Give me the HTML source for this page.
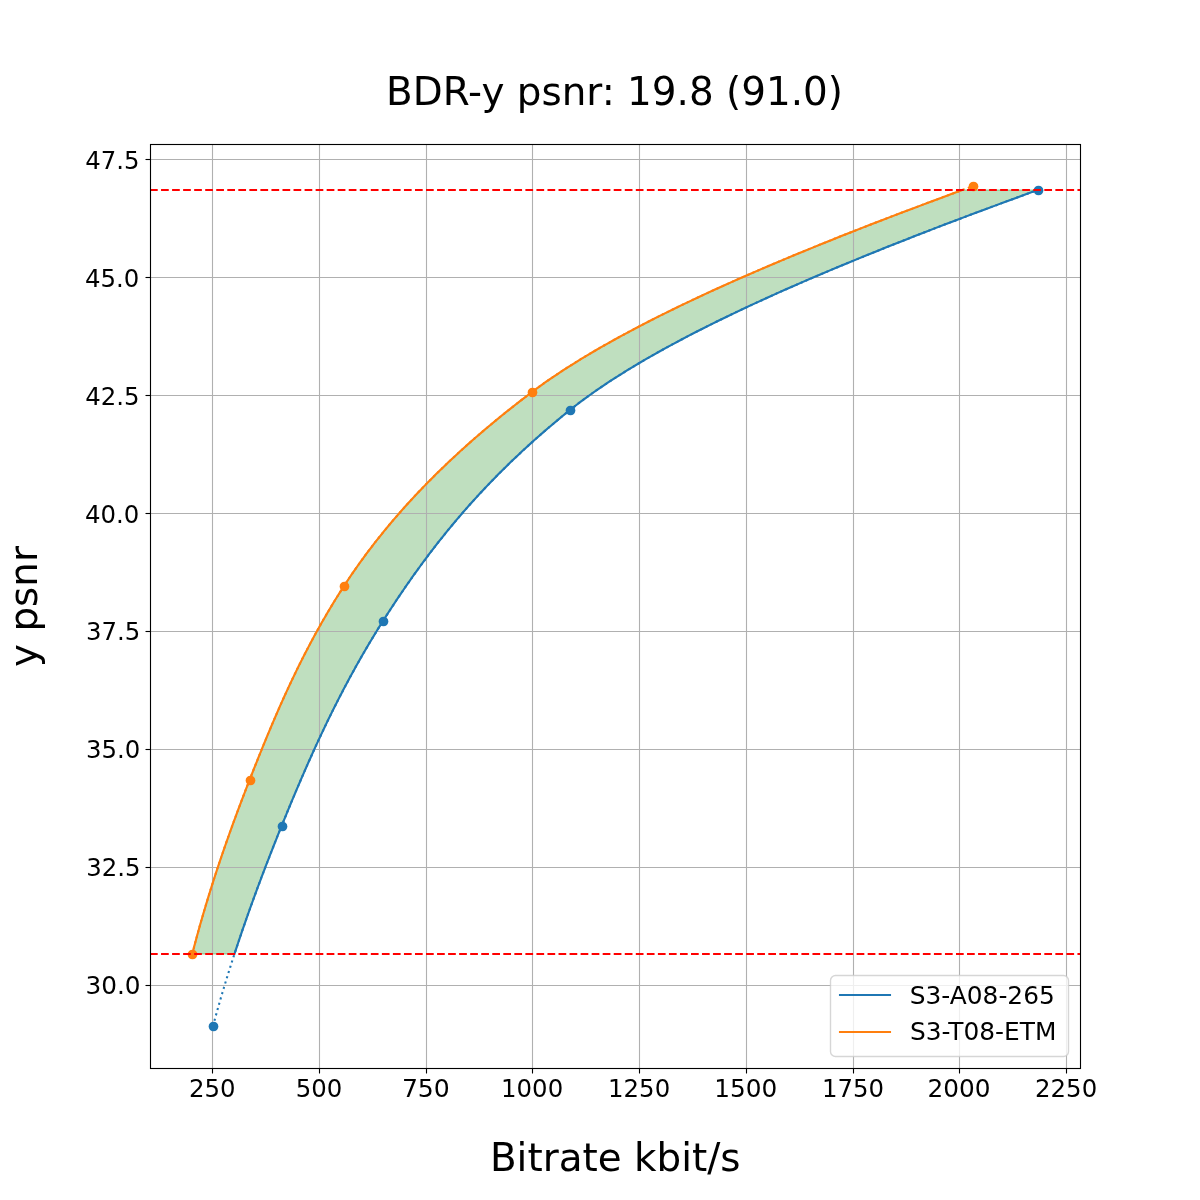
<!DOCTYPE html>
<html lang="en"><head><meta charset="utf-8"><title>BDR-y psnr: 19.8 (91.0)</title>
<style>html,body{margin:0;padding:0;background:#fff}svg{display:block}text{font-family:"DejaVu Sans","Liberation Sans",sans-serif;fill:#000}.t18{font-size:24.4px}.t28{font-size:38.889px}</style></head><body>
<svg width="1200" height="1200" viewBox="0 0 1200 1200">
<rect width="1200" height="1200" fill="#fff"/>
<defs><clipPath id="ax"><rect x="150" y="144" width="930" height="924"/></clipPath></defs>
<g clip-path="url(#ax)"><path d="M234.46 954.00 L235.72 950.16 L236.99 946.32 L238.27 942.48 L239.56 938.64 L240.86 934.80 L242.17 930.96 L243.49 927.13 L244.83 923.29 L246.17 919.45 L247.52 915.61 L248.88 911.77 L250.25 907.93 L251.63 904.09 L253.02 900.25 L254.42 896.41 L255.83 892.57 L257.25 888.73 L258.67 884.89 L260.11 881.06 L261.55 877.22 L263.00 873.38 L264.46 869.54 L265.93 865.70 L267.41 861.86 L268.90 858.02 L270.39 854.18 L271.90 850.34 L273.41 846.50 L274.92 842.66 L276.45 838.82 L277.98 834.98 L279.52 831.15 L281.07 827.31 L282.63 823.47 L284.19 819.63 L285.76 815.79 L287.33 811.95 L288.91 808.11 L290.50 804.27 L292.10 800.43 L293.70 796.59 L295.32 792.75 L296.94 788.91 L298.58 785.08 L300.22 781.24 L301.87 777.40 L303.54 773.56 L305.21 769.72 L306.90 765.88 L308.60 762.04 L310.32 758.20 L312.04 754.36 L313.78 750.52 L315.53 746.68 L317.30 742.84 L319.08 739.01 L320.87 735.17 L322.68 731.33 L324.51 727.49 L326.35 723.65 L328.21 719.81 L330.09 715.97 L331.98 712.13 L333.89 708.29 L335.82 704.45 L337.77 700.61 L339.74 696.77 L341.72 692.93 L343.73 689.10 L345.75 685.26 L347.80 681.42 L349.86 677.58 L351.95 673.74 L354.06 669.90 L356.19 666.06 L358.35 662.22 L360.52 658.38 L362.72 654.54 L364.95 650.70 L367.20 646.86 L369.47 643.03 L371.77 639.19 L374.09 635.35 L376.44 631.51 L378.81 627.67 L381.21 623.83 L383.64 619.99 L386.09 616.15 L388.56 612.31 L391.05 608.47 L393.57 604.63 L396.11 600.79 L398.67 596.95 L401.26 593.12 L403.88 589.28 L406.52 585.44 L409.19 581.60 L411.88 577.76 L414.61 573.92 L417.37 570.08 L420.16 566.24 L422.98 562.40 L425.83 558.56 L428.72 554.72 L431.64 550.88 L434.59 547.05 L437.59 543.21 L440.61 539.37 L443.68 535.53 L446.79 531.69 L449.93 527.85 L453.12 524.01 L456.34 520.17 L459.61 516.33 L462.92 512.49 L466.27 508.65 L469.67 504.81 L473.11 500.97 L476.60 497.14 L480.14 493.30 L483.72 489.46 L487.35 485.62 L491.04 481.78 L494.77 477.94 L498.55 474.10 L502.38 470.26 L506.27 466.42 L510.21 462.58 L514.21 458.74 L518.26 454.90 L522.36 451.07 L526.52 447.23 L530.74 443.39 L535.02 439.55 L539.36 435.71 L543.76 431.87 L548.22 428.03 L552.74 424.19 L557.32 420.35 L561.97 416.51 L566.68 412.67 L571.46 408.83 L576.37 404.99 L581.43 401.16 L586.63 397.32 L591.98 393.48 L597.48 389.64 L603.11 385.80 L608.88 381.96 L614.80 378.12 L620.85 374.28 L627.03 370.44 L633.35 366.60 L639.79 362.76 L646.37 358.92 L653.07 355.09 L659.90 351.25 L666.86 347.41 L673.94 343.57 L681.13 339.73 L688.45 335.89 L695.89 332.05 L703.44 328.21 L711.10 324.37 L718.88 320.53 L726.76 316.69 L734.76 312.85 L742.86 309.02 L751.07 305.18 L759.38 301.34 L767.80 297.50 L776.31 293.66 L784.92 289.82 L793.63 285.98 L802.43 282.14 L811.33 278.30 L820.32 274.46 L829.40 270.62 L838.56 266.78 L847.82 262.94 L857.15 259.11 L866.57 255.27 L876.08 251.43 L885.66 247.59 L895.31 243.75 L905.05 239.91 L914.86 236.07 L924.74 232.23 L934.69 228.39 L944.71 224.55 L954.80 220.71 L964.96 216.87 L975.17 213.04 L985.45 209.20 L995.80 205.36 L1006.20 201.52 L1016.65 197.68 L1027.16 193.84 L1037.73 190.00 L962.49 190.00 L952.03 193.84 L941.63 197.68 L931.30 201.52 L921.02 205.36 L910.81 209.20 L900.67 213.04 L890.60 216.87 L880.59 220.71 L870.66 224.55 L860.80 228.39 L851.02 232.23 L841.31 236.07 L831.69 239.91 L822.14 243.75 L812.67 247.59 L803.29 251.43 L793.99 255.27 L784.78 259.11 L775.66 262.94 L766.63 266.78 L757.69 270.62 L748.84 274.46 L740.09 278.30 L731.43 282.14 L722.87 285.98 L714.42 289.82 L706.06 293.66 L697.81 297.50 L689.67 301.34 L681.63 305.18 L673.70 309.02 L665.87 312.85 L658.17 316.69 L650.57 320.53 L643.09 324.37 L635.73 328.21 L628.48 332.05 L621.36 335.89 L614.35 339.73 L607.48 343.57 L600.72 347.41 L594.09 351.25 L587.60 355.09 L581.23 358.92 L574.99 362.76 L568.89 366.60 L562.92 370.44 L557.09 374.28 L551.40 378.12 L545.84 381.96 L540.43 385.80 L535.17 389.64 L530.04 393.48 L524.99 397.32 L520.00 401.16 L515.07 404.99 L510.20 408.83 L505.38 412.67 L500.63 416.51 L495.94 420.35 L491.30 424.19 L486.72 428.03 L482.20 431.87 L477.74 435.71 L473.33 439.55 L468.98 443.39 L464.68 447.23 L460.44 451.07 L456.26 454.90 L452.13 458.74 L448.06 462.58 L444.04 466.42 L440.07 470.26 L436.16 474.10 L432.30 477.94 L428.49 481.78 L424.74 485.62 L421.04 489.46 L417.39 493.30 L413.79 497.14 L410.24 500.97 L406.74 504.81 L403.29 508.65 L399.90 512.49 L396.55 516.33 L393.25 520.17 L390.00 524.01 L386.80 527.85 L383.65 531.69 L380.54 535.53 L377.48 539.37 L374.47 543.21 L371.51 547.05 L368.59 550.88 L365.72 554.72 L362.90 558.56 L360.12 562.40 L357.38 566.24 L354.69 570.08 L352.04 573.92 L349.44 577.76 L346.88 581.60 L344.37 585.44 L341.89 589.28 L339.45 593.12 L337.04 596.95 L334.66 600.79 L332.32 604.63 L330.01 608.47 L327.73 612.31 L325.48 616.15 L323.25 619.99 L321.06 623.83 L318.90 627.67 L316.77 631.51 L314.66 635.35 L312.58 639.19 L310.52 643.03 L308.50 646.86 L306.49 650.70 L304.51 654.54 L302.56 658.38 L300.63 662.22 L298.72 666.06 L296.83 669.90 L294.97 673.74 L293.12 677.58 L291.30 681.42 L289.49 685.26 L287.71 689.10 L285.94 692.93 L284.19 696.77 L282.46 700.61 L280.75 704.45 L279.05 708.29 L277.37 712.13 L275.70 715.97 L274.04 719.81 L272.41 723.65 L270.78 727.49 L269.17 731.33 L267.56 735.17 L265.97 739.01 L264.39 742.84 L262.83 746.68 L261.27 750.52 L259.72 754.36 L258.17 758.20 L256.64 762.04 L255.11 765.88 L253.59 769.72 L252.08 773.56 L250.57 777.40 L249.07 781.24 L247.57 785.08 L246.08 788.91 L244.61 792.75 L243.14 796.59 L241.68 800.43 L240.22 804.27 L238.78 808.11 L237.35 811.95 L235.93 815.79 L234.51 819.63 L233.11 823.47 L231.72 827.31 L230.34 831.15 L228.96 834.98 L227.60 838.82 L226.25 842.66 L224.91 846.50 L223.58 850.34 L222.26 854.18 L220.95 858.02 L219.65 861.86 L218.37 865.70 L217.09 869.54 L215.83 873.38 L214.58 877.22 L213.34 881.06 L212.12 884.89 L210.90 888.73 L209.70 892.57 L208.51 896.41 L207.34 900.25 L206.17 904.09 L205.02 907.93 L203.88 911.77 L202.76 915.61 L201.65 919.45 L200.55 923.29 L199.47 927.13 L198.40 930.96 L197.34 934.80 L196.30 938.64 L195.27 942.48 L194.25 946.32 L193.25 950.16 L192.27 954.00 Z" fill="#008000" fill-opacity="0.25" stroke="#008000" stroke-opacity="0.25" stroke-width="1.389" stroke-linejoin="miter"/></g>
<g stroke="#b0b0b0" stroke-width="1.111" fill="none">
<path d="M212.5 1068V144"/>
<path d="M319.5 1068V144"/>
<path d="M426.5 1068V144"/>
<path d="M532.5 1068V144"/>
<path d="M639.5 1068V144"/>
<path d="M746.5 1068V144"/>
<path d="M853.5 1068V144"/>
<path d="M959.5 1068V144"/>
<path d="M1066.5 1068V144"/>
<path d="M150 985.5H1080"/>
<path d="M150 867.5H1080"/>
<path d="M150 749.5H1080"/>
<path d="M150 631.5H1080"/>
<path d="M150 513.5H1080"/>
<path d="M150 395.5H1080"/>
<path d="M150 277.5H1080"/>
<path d="M150 159.5H1080"/>
</g>
<g stroke="#000" stroke-width="1.111" fill="none">
<path d="M212.5 1068.5v5.00"/>
<path d="M319.5 1068.5v5.00"/>
<path d="M426.5 1068.5v5.00"/>
<path d="M532.5 1068.5v5.00"/>
<path d="M639.5 1068.5v5.00"/>
<path d="M746.5 1068.5v5.00"/>
<path d="M853.5 1068.5v5.00"/>
<path d="M959.5 1068.5v5.00"/>
<path d="M1066.5 1068.5v5.00"/>
<path d="M150.5 985.5h-5.00"/>
<path d="M150.5 867.5h-5.00"/>
<path d="M150.5 749.5h-5.00"/>
<path d="M150.5 631.5h-5.00"/>
<path d="M150.5 513.5h-5.00"/>
<path d="M150.5 395.5h-5.00"/>
<path d="M150.5 277.5h-5.00"/>
<path d="M150.5 159.5h-5.00"/>
</g>
<g clip-path="url(#ax)">
<path d="M213.00 1026.00 L213.56 1023.90 L214.13 1021.81 L214.70 1019.71 L215.28 1017.62 L215.86 1015.52 L216.44 1013.43 L217.03 1011.33 L217.62 1009.24 L218.21 1007.14 L218.81 1005.05 L219.41 1002.95 L220.01 1000.86 L220.62 998.76 L221.24 996.67 L221.85 994.57 L222.47 992.48 L223.09 990.38 L223.72 988.29 L224.35 986.19 L224.98 984.10 L225.62 982.00 L226.26 979.90 L226.91 977.81 L227.55 975.71 L228.20 973.62 L228.86 971.52 L229.52 969.43 L230.18 967.33 L230.84 965.24 L231.51 963.14 L232.18 961.05 L232.86 958.95 L233.53 956.86 L234.21 954.76 L234.90 952.67 L235.59 950.57 L236.28 948.48 L236.97 946.38 L237.67 944.29 L238.37 942.19 L239.07 940.10 L239.78 938.00 L240.49 935.90 L241.20 933.81 L241.92 931.71 L242.63 929.62 L243.36 927.52 L244.08 925.43 L244.81 923.33 L245.54 921.24 L246.27 919.14 L247.01 917.05 L247.75 914.95 L248.49 912.86 L249.24 910.76 L249.99 908.67 L250.74 906.57 L251.49 904.48 L252.25 902.38 L253.01 900.29 L253.77 898.19 L254.54 896.10 L255.30 894.00 L256.07 891.90 L256.85 889.81 L257.62 887.71 L258.40 885.62 L259.18 883.52 L259.97 881.43 L260.75 879.33 L261.54 877.24 L262.33 875.14 L263.13 873.05 L263.93 870.95 L264.72 868.86 L265.53 866.76 L266.33 864.67 L267.14 862.57 L267.95 860.48 L268.76 858.38 L269.57 856.29 L270.39 854.19 L271.21 852.10 L272.03 850.00 L272.85 847.90 L273.68 845.81 L274.51 843.71 L275.34 841.62 L276.17 839.52 L277.01 837.43 L277.84 835.33 L278.68 833.24 L279.52 831.14 L280.37 829.05 L281.21 826.95 L282.06 824.86 L282.91 822.76 L283.76 820.67 L284.62 818.57 L285.47 816.48 L286.33 814.38 L287.19 812.29 L288.05 810.19 L288.92 808.10 L289.78 806.00 L290.65 803.90 L291.52 801.81 L292.40 799.71 L293.27 797.62 L294.15 795.52 L295.03 793.43 L295.92 791.33 L296.80 789.24 L297.69 787.14 L298.59 785.05 L299.48 782.95 L300.38 780.86 L301.28 778.76 L302.19 776.67 L303.10 774.57 L304.01 772.48 L304.92 770.38 L305.84 768.29 L306.77 766.19 L307.69 764.10 L308.62 762.00 L309.55 759.90 L310.49 757.81 L311.43 755.71 L312.38 753.62 L313.32 751.52 L314.28 749.43 L315.23 747.33 L316.19 745.24 L317.16 743.14 L318.13 741.05 L319.10 738.95 L320.08 736.86 L321.06 734.76 L322.05 732.67 L323.04 730.57 L324.04 728.48 L325.04 726.38 L326.05 724.29 L327.06 722.19 L328.07 720.10 L329.09 718.00 L330.12 715.90 L331.15 713.81 L332.19 711.71 L333.23 709.62 L334.28 707.52 L335.33 705.43 L336.39 703.33 L337.45 701.24 L338.52 699.14 L339.59 697.05 L340.68 694.95 L341.76 692.86 L342.85 690.76 L343.95 688.67 L345.06 686.57 L346.17 684.48 L347.28 682.38 L348.40 680.29 L349.53 678.19 L350.67 676.10 L351.81 674.00 L352.96 671.90 L354.11 669.81 L355.27 667.71 L356.44 665.62 L357.61 663.52 L358.80 661.43 L359.98 659.33 L361.18 657.24 L362.38 655.14 L363.59 653.05 L364.80 650.95 L366.03 648.86 L367.26 646.76 L368.49 644.67 L369.74 642.57 L370.99 640.48 L372.25 638.38 L373.52 636.29 L374.79 634.19 L376.08 632.10 L377.37 630.00 L378.67 627.90 L379.97 625.81 L381.29 623.71 L382.61 621.62 L383.94 619.52 L385.27 617.43 L386.62 615.33 L387.96 613.24 L389.32 611.14 L390.68 609.05 L392.05 606.95 L393.42 604.86 L394.80 602.76 L396.19 600.67 L397.59 598.57 L398.99 596.48 L400.40 594.38 L401.82 592.29 L403.25 590.19 L404.69 588.10 L406.13 586.00 L407.58 583.90 L409.04 581.81 L410.51 579.71 L411.98 577.62 L413.47 575.52 L414.96 573.43 L416.47 571.33 L417.98 569.24 L419.50 567.14 L421.03 565.05 L422.57 562.95 L424.12 560.86 L425.68 558.76 L427.25 556.67 L428.83 554.57 L430.42 552.48 L432.02 550.38 L433.63 548.29 L435.26 546.19 L436.89 544.10 L438.53 542.00 L440.19 539.90 L441.85 537.81 L443.53 535.71 L445.22 533.62 L446.92 531.52 L448.63 529.43 L450.36 527.33 L452.09 525.24 L453.84 523.14 L455.60 521.05 L457.37 518.95 L459.16 516.86 L460.96 514.76 L462.77 512.67 L464.59 510.57 L466.43 508.48 L468.28 506.38 L470.14 504.29 L472.02 502.19 L473.91 500.10 L475.81 498.00 L477.73 495.90 L479.66 493.81 L481.61 491.71 L483.57 489.62 L485.54 487.52 L487.53 485.43 L489.54 483.33 L491.56 481.24 L493.59 479.14 L495.64 477.05 L497.71 474.95 L499.79 472.86 L501.88 470.76 L503.99 468.67 L506.12 466.57 L508.26 464.48 L510.42 462.38 L512.59 460.29 L514.79 458.19 L516.99 456.10 L519.22 454.00 L521.46 451.90 L523.72 449.81 L525.99 447.71 L528.28 445.62 L530.59 443.52 L532.92 441.43 L535.26 439.33 L537.63 437.24 L540.01 435.14 L542.40 433.05 L544.82 430.95 L547.25 428.86 L549.71 426.76 L552.18 424.67 L554.67 422.57 L557.17 420.48 L559.70 418.38 L562.25 416.29 L564.81 414.19 L567.40 412.10 L570.00 410.00 L572.64 407.90 L575.32 405.81 L578.04 403.71 L580.81 401.62 L583.62 399.52 L586.48 397.43 L589.38 395.33 L592.32 393.24 L595.31 391.14 L598.33 389.05 L601.40 386.95 L604.51 384.86 L607.67 382.76 L610.86 380.67 L614.10 378.57 L617.37 376.48 L620.69 374.38 L624.04 372.29 L627.44 370.19 L630.87 368.10 L634.35 366.00 L637.86 363.90 L641.42 361.81 L645.01 359.71 L648.64 357.62 L652.30 355.52 L656.01 353.43 L659.75 351.33 L663.53 349.24 L667.34 347.14 L671.19 345.05 L675.08 342.95 L679.01 340.86 L682.97 338.76 L686.96 336.67 L690.99 334.57 L695.06 332.48 L699.16 330.38 L703.29 328.29 L707.46 326.19 L711.66 324.10 L715.89 322.00 L720.16 319.90 L724.46 317.81 L728.79 315.71 L733.16 313.62 L737.56 311.52 L741.99 309.43 L746.45 307.33 L750.94 305.24 L755.46 303.14 L760.01 301.05 L764.60 298.95 L769.21 296.86 L773.85 294.76 L778.52 292.67 L783.23 290.57 L787.96 288.48 L792.72 286.38 L797.50 284.29 L802.32 282.19 L807.16 280.10 L812.03 278.00 L816.93 275.90 L821.86 273.81 L826.81 271.71 L831.79 269.62 L836.79 267.52 L841.82 265.43 L846.88 263.33 L851.96 261.24 L857.06 259.14 L862.19 257.05 L867.35 254.95 L872.53 252.86 L877.73 250.76 L882.96 248.67 L888.21 246.57 L893.48 244.48 L898.77 242.38 L904.09 240.29 L909.43 238.19 L914.79 236.10 L920.18 234.00 L925.58 231.90 L931.01 229.81 L936.46 227.71 L941.92 225.62 L947.41 223.52 L952.92 221.43 L958.44 219.33 L963.99 217.24 L969.56 215.14 L975.14 213.05 L980.74 210.95 L986.37 208.86 L992.00 206.76 L997.66 204.67 L1003.34 202.57 L1009.03 200.48 L1014.73 198.38 L1020.46 196.29 L1026.20 194.19 L1031.96 192.10 L1037.73 190.00" fill="none" stroke="#1f77b4" stroke-width="2.083" stroke-dasharray="2.083 3.437" stroke-linejoin="round"/>
<path d="M234.46 954.00 L235.72 950.16 L236.99 946.32 L238.27 942.48 L239.56 938.64 L240.86 934.80 L242.17 930.96 L243.49 927.13 L244.83 923.29 L246.17 919.45 L247.52 915.61 L248.88 911.77 L250.25 907.93 L251.63 904.09 L253.02 900.25 L254.42 896.41 L255.83 892.57 L257.25 888.73 L258.67 884.89 L260.11 881.06 L261.55 877.22 L263.00 873.38 L264.46 869.54 L265.93 865.70 L267.41 861.86 L268.90 858.02 L270.39 854.18 L271.90 850.34 L273.41 846.50 L274.92 842.66 L276.45 838.82 L277.98 834.98 L279.52 831.15 L281.07 827.31 L282.63 823.47 L284.19 819.63 L285.76 815.79 L287.33 811.95 L288.91 808.11 L290.50 804.27 L292.10 800.43 L293.70 796.59 L295.32 792.75 L296.94 788.91 L298.58 785.08 L300.22 781.24 L301.87 777.40 L303.54 773.56 L305.21 769.72 L306.90 765.88 L308.60 762.04 L310.32 758.20 L312.04 754.36 L313.78 750.52 L315.53 746.68 L317.30 742.84 L319.08 739.01 L320.87 735.17 L322.68 731.33 L324.51 727.49 L326.35 723.65 L328.21 719.81 L330.09 715.97 L331.98 712.13 L333.89 708.29 L335.82 704.45 L337.77 700.61 L339.74 696.77 L341.72 692.93 L343.73 689.10 L345.75 685.26 L347.80 681.42 L349.86 677.58 L351.95 673.74 L354.06 669.90 L356.19 666.06 L358.35 662.22 L360.52 658.38 L362.72 654.54 L364.95 650.70 L367.20 646.86 L369.47 643.03 L371.77 639.19 L374.09 635.35 L376.44 631.51 L378.81 627.67 L381.21 623.83 L383.64 619.99 L386.09 616.15 L388.56 612.31 L391.05 608.47 L393.57 604.63 L396.11 600.79 L398.67 596.95 L401.26 593.12 L403.88 589.28 L406.52 585.44 L409.19 581.60 L411.88 577.76 L414.61 573.92 L417.37 570.08 L420.16 566.24 L422.98 562.40 L425.83 558.56 L428.72 554.72 L431.64 550.88 L434.59 547.05 L437.59 543.21 L440.61 539.37 L443.68 535.53 L446.79 531.69 L449.93 527.85 L453.12 524.01 L456.34 520.17 L459.61 516.33 L462.92 512.49 L466.27 508.65 L469.67 504.81 L473.11 500.97 L476.60 497.14 L480.14 493.30 L483.72 489.46 L487.35 485.62 L491.04 481.78 L494.77 477.94 L498.55 474.10 L502.38 470.26 L506.27 466.42 L510.21 462.58 L514.21 458.74 L518.26 454.90 L522.36 451.07 L526.52 447.23 L530.74 443.39 L535.02 439.55 L539.36 435.71 L543.76 431.87 L548.22 428.03 L552.74 424.19 L557.32 420.35 L561.97 416.51 L566.68 412.67 L571.46 408.83 L576.37 404.99 L581.43 401.16 L586.63 397.32 L591.98 393.48 L597.48 389.64 L603.11 385.80 L608.88 381.96 L614.80 378.12 L620.85 374.28 L627.03 370.44 L633.35 366.60 L639.79 362.76 L646.37 358.92 L653.07 355.09 L659.90 351.25 L666.86 347.41 L673.94 343.57 L681.13 339.73 L688.45 335.89 L695.89 332.05 L703.44 328.21 L711.10 324.37 L718.88 320.53 L726.76 316.69 L734.76 312.85 L742.86 309.02 L751.07 305.18 L759.38 301.34 L767.80 297.50 L776.31 293.66 L784.92 289.82 L793.63 285.98 L802.43 282.14 L811.33 278.30 L820.32 274.46 L829.40 270.62 L838.56 266.78 L847.82 262.94 L857.15 259.11 L866.57 255.27 L876.08 251.43 L885.66 247.59 L895.31 243.75 L905.05 239.91 L914.86 236.07 L924.74 232.23 L934.69 228.39 L944.71 224.55 L954.80 220.71 L964.96 216.87 L975.17 213.04 L985.45 209.20 L995.80 205.36 L1006.20 201.52 L1016.65 197.68 L1027.16 193.84 L1037.73 190.00" fill="none" stroke="#1f77b4" stroke-width="2.083" stroke-linecap="square" stroke-linejoin="round"/>
<circle cx="213.50" cy="1026.50" r="4.861" fill="#1f77b4"/>
<circle cx="282.50" cy="826.50" r="4.861" fill="#1f77b4"/>
<circle cx="383.50" cy="621.50" r="4.861" fill="#1f77b4"/>
<circle cx="570.50" cy="410.50" r="4.861" fill="#1f77b4"/>
<circle cx="1038.50" cy="190.50" r="4.861" fill="#1f77b4"/>
<path d="M192.27 954.00 L192.76 952.08 L193.26 950.15 L193.76 948.23 L194.26 946.30 L194.77 944.38 L195.28 942.45 L195.79 940.53 L196.31 938.60 L196.83 936.68 L197.35 934.75 L197.88 932.83 L198.41 930.90 L198.95 928.98 L199.49 927.05 L200.03 925.13 L200.57 923.20 L201.12 921.28 L201.68 919.35 L202.23 917.43 L202.79 915.50 L203.35 913.58 L203.92 911.65 L204.49 909.73 L205.06 907.80 L205.63 905.88 L206.21 903.95 L206.80 902.03 L207.38 900.11 L207.97 898.18 L208.56 896.26 L209.16 894.33 L209.75 892.41 L210.35 890.48 L210.96 888.56 L211.57 886.63 L212.18 884.71 L212.79 882.78 L213.41 880.86 L214.03 878.93 L214.65 877.01 L215.28 875.08 L215.90 873.16 L216.54 871.23 L217.17 869.31 L217.81 867.38 L218.45 865.46 L219.09 863.53 L219.74 861.61 L220.39 859.68 L221.04 857.76 L221.69 855.83 L222.35 853.91 L223.01 851.98 L223.67 850.06 L224.34 848.14 L225.01 846.21 L225.68 844.29 L226.35 842.36 L227.03 840.44 L227.71 838.51 L228.39 836.59 L229.08 834.66 L229.76 832.74 L230.45 830.81 L231.15 828.89 L231.84 826.96 L232.54 825.04 L233.24 823.11 L233.94 821.19 L234.65 819.26 L235.36 817.34 L236.07 815.41 L236.78 813.49 L237.49 811.56 L238.21 809.64 L238.93 807.71 L239.65 805.79 L240.38 803.86 L241.10 801.94 L241.83 800.02 L242.57 798.09 L243.30 796.17 L244.04 794.24 L244.77 792.32 L245.51 790.39 L246.26 788.47 L247.00 786.54 L247.75 784.62 L248.50 782.69 L249.25 780.77 L250.00 778.84 L250.76 776.92 L251.51 774.99 L252.27 773.07 L253.03 771.14 L253.79 769.22 L254.55 767.29 L255.32 765.37 L256.08 763.44 L256.85 761.52 L257.62 759.59 L258.39 757.67 L259.16 755.74 L259.93 753.82 L260.71 751.89 L261.49 749.97 L262.27 748.05 L263.05 746.12 L263.84 744.20 L264.63 742.27 L265.42 740.35 L266.21 738.42 L267.01 736.50 L267.81 734.57 L268.61 732.65 L269.42 730.72 L270.23 728.80 L271.04 726.87 L271.85 724.95 L272.67 723.02 L273.49 721.10 L274.32 719.17 L275.15 717.25 L275.98 715.32 L276.81 713.40 L277.65 711.47 L278.50 709.55 L279.34 707.62 L280.19 705.70 L281.05 703.77 L281.91 701.85 L282.77 699.92 L283.64 698.00 L284.51 696.08 L285.39 694.15 L286.27 692.23 L287.15 690.30 L288.04 688.38 L288.93 686.45 L289.83 684.53 L290.74 682.60 L291.65 680.68 L292.56 678.75 L293.48 676.83 L294.40 674.90 L295.33 672.98 L296.27 671.05 L297.21 669.13 L298.15 667.20 L299.10 665.28 L300.06 663.35 L301.02 661.43 L301.99 659.50 L302.96 657.58 L303.94 655.65 L304.93 653.73 L305.92 651.80 L306.92 649.88 L307.92 647.95 L308.93 646.03 L309.95 644.11 L310.97 642.18 L312.00 640.26 L313.04 638.33 L314.08 636.41 L315.13 634.48 L316.19 632.56 L317.25 630.63 L318.32 628.71 L319.40 626.78 L320.48 624.86 L321.57 622.93 L322.67 621.01 L323.78 619.08 L324.89 617.16 L326.01 615.23 L327.14 613.31 L328.27 611.38 L329.42 609.46 L330.57 607.53 L331.73 605.61 L332.90 603.68 L334.07 601.76 L335.25 599.83 L336.44 597.91 L337.64 595.98 L338.85 594.06 L340.07 592.14 L341.29 590.21 L342.52 588.29 L343.77 586.36 L345.02 584.44 L346.28 582.51 L347.55 580.59 L348.83 578.66 L350.13 576.74 L351.43 574.81 L352.75 572.89 L354.08 570.96 L355.42 569.04 L356.77 567.11 L358.13 565.19 L359.50 563.26 L360.88 561.34 L362.28 559.41 L363.68 557.49 L365.10 555.56 L366.53 553.64 L367.97 551.71 L369.42 549.79 L370.88 547.86 L372.36 545.94 L373.85 544.02 L375.34 542.09 L376.85 540.17 L378.38 538.24 L379.91 536.32 L381.46 534.39 L383.01 532.47 L384.58 530.54 L386.17 528.62 L387.76 526.69 L389.37 524.77 L390.98 522.84 L392.61 520.92 L394.26 518.99 L395.91 517.07 L397.58 515.14 L399.26 513.22 L400.95 511.29 L402.66 509.37 L404.37 507.44 L406.10 505.52 L407.85 503.59 L409.60 501.67 L411.37 499.74 L413.15 497.82 L414.94 495.89 L416.75 493.97 L418.57 492.05 L420.40 490.12 L422.25 488.20 L424.10 486.27 L425.98 484.35 L427.86 482.42 L429.76 480.50 L431.67 478.57 L433.59 476.65 L435.53 474.72 L437.48 472.80 L439.45 470.87 L441.42 468.95 L443.41 467.02 L445.42 465.10 L447.44 463.17 L449.47 461.25 L451.51 459.32 L453.57 457.40 L455.65 455.47 L457.73 453.55 L459.83 451.62 L461.95 449.70 L464.08 447.77 L466.22 445.85 L468.37 443.92 L470.54 442.00 L472.73 440.08 L474.93 438.15 L477.14 436.23 L479.37 434.30 L481.61 432.38 L483.86 430.45 L486.13 428.53 L488.42 426.60 L490.72 424.68 L493.03 422.75 L495.36 420.83 L497.70 418.90 L500.06 416.98 L502.43 415.05 L504.82 413.13 L507.22 411.20 L509.64 409.28 L512.07 407.35 L514.51 405.43 L516.98 403.50 L519.45 401.58 L521.94 399.65 L524.45 397.73 L526.97 395.80 L529.51 393.88 L532.06 391.95 L534.64 390.03 L537.25 388.11 L539.90 386.18 L542.59 384.26 L545.32 382.33 L548.07 380.41 L550.87 378.48 L553.70 376.56 L556.56 374.63 L559.46 372.71 L562.40 370.78 L565.37 368.86 L568.37 366.93 L571.41 365.01 L574.48 363.08 L577.58 361.16 L580.72 359.23 L583.89 357.31 L587.10 355.38 L590.33 353.46 L593.60 351.53 L596.90 349.61 L600.24 347.68 L603.60 345.76 L607.00 343.83 L610.43 341.91 L613.89 339.98 L617.38 338.06 L620.91 336.14 L624.46 334.21 L628.04 332.29 L631.66 330.36 L635.30 328.44 L638.97 326.51 L642.68 324.59 L646.41 322.66 L650.17 320.74 L653.96 318.81 L657.78 316.89 L661.63 314.96 L665.50 313.04 L669.41 311.11 L673.34 309.19 L677.30 307.26 L681.29 305.34 L685.30 303.41 L689.35 301.49 L693.41 299.56 L697.51 297.64 L701.63 295.71 L705.78 293.79 L709.95 291.86 L714.15 289.94 L718.38 288.02 L722.63 286.09 L726.91 284.17 L731.21 282.24 L735.53 280.32 L739.88 278.39 L744.26 276.47 L748.66 274.54 L753.08 272.62 L757.53 270.69 L762.00 268.77 L766.49 266.84 L771.01 264.92 L775.55 262.99 L780.11 261.07 L784.69 259.14 L789.30 257.22 L793.93 255.29 L798.58 253.37 L803.25 251.44 L807.94 249.52 L812.66 247.59 L817.39 245.67 L822.15 243.74 L826.93 241.82 L831.72 239.89 L836.54 237.97 L841.38 236.05 L846.24 234.12 L851.11 232.20 L856.01 230.27 L860.92 228.35 L865.86 226.42 L870.81 224.50 L875.78 222.57 L880.77 220.65 L885.78 218.72 L890.80 216.80 L895.84 214.87 L900.90 212.95 L905.98 211.02 L911.07 209.10 L916.18 207.17 L921.31 205.25 L926.46 203.32 L931.62 201.40 L936.79 199.47 L941.98 197.55 L947.19 195.62 L952.41 193.70 L957.65 191.77 L962.90 189.85 L968.17 187.92 L973.45 186.00" fill="none" stroke="#ff7f0e" stroke-width="2.083" stroke-dasharray="2.083 3.437" stroke-linejoin="round"/>
<path d="M192.27 954.00 L193.25 950.16 L194.25 946.32 L195.27 942.48 L196.30 938.64 L197.34 934.80 L198.40 930.96 L199.47 927.13 L200.55 923.29 L201.65 919.45 L202.76 915.61 L203.88 911.77 L205.02 907.93 L206.17 904.09 L207.34 900.25 L208.51 896.41 L209.70 892.57 L210.90 888.73 L212.12 884.89 L213.34 881.06 L214.58 877.22 L215.83 873.38 L217.09 869.54 L218.37 865.70 L219.65 861.86 L220.95 858.02 L222.26 854.18 L223.58 850.34 L224.91 846.50 L226.25 842.66 L227.60 838.82 L228.96 834.98 L230.34 831.15 L231.72 827.31 L233.11 823.47 L234.51 819.63 L235.93 815.79 L237.35 811.95 L238.78 808.11 L240.22 804.27 L241.68 800.43 L243.14 796.59 L244.61 792.75 L246.08 788.91 L247.57 785.08 L249.07 781.24 L250.57 777.40 L252.08 773.56 L253.59 769.72 L255.11 765.88 L256.64 762.04 L258.17 758.20 L259.72 754.36 L261.27 750.52 L262.83 746.68 L264.39 742.84 L265.97 739.01 L267.56 735.17 L269.17 731.33 L270.78 727.49 L272.41 723.65 L274.04 719.81 L275.70 715.97 L277.37 712.13 L279.05 708.29 L280.75 704.45 L282.46 700.61 L284.19 696.77 L285.94 692.93 L287.71 689.10 L289.49 685.26 L291.30 681.42 L293.12 677.58 L294.97 673.74 L296.83 669.90 L298.72 666.06 L300.63 662.22 L302.56 658.38 L304.51 654.54 L306.49 650.70 L308.50 646.86 L310.52 643.03 L312.58 639.19 L314.66 635.35 L316.77 631.51 L318.90 627.67 L321.06 623.83 L323.25 619.99 L325.48 616.15 L327.73 612.31 L330.01 608.47 L332.32 604.63 L334.66 600.79 L337.04 596.95 L339.45 593.12 L341.89 589.28 L344.37 585.44 L346.88 581.60 L349.44 577.76 L352.04 573.92 L354.69 570.08 L357.38 566.24 L360.12 562.40 L362.90 558.56 L365.72 554.72 L368.59 550.88 L371.51 547.05 L374.47 543.21 L377.48 539.37 L380.54 535.53 L383.65 531.69 L386.80 527.85 L390.00 524.01 L393.25 520.17 L396.55 516.33 L399.90 512.49 L403.29 508.65 L406.74 504.81 L410.24 500.97 L413.79 497.14 L417.39 493.30 L421.04 489.46 L424.74 485.62 L428.49 481.78 L432.30 477.94 L436.16 474.10 L440.07 470.26 L444.04 466.42 L448.06 462.58 L452.13 458.74 L456.26 454.90 L460.44 451.07 L464.68 447.23 L468.98 443.39 L473.33 439.55 L477.74 435.71 L482.20 431.87 L486.72 428.03 L491.30 424.19 L495.94 420.35 L500.63 416.51 L505.38 412.67 L510.20 408.83 L515.07 404.99 L520.00 401.16 L524.99 397.32 L530.04 393.48 L535.17 389.64 L540.43 385.80 L545.84 381.96 L551.40 378.12 L557.09 374.28 L562.92 370.44 L568.89 366.60 L574.99 362.76 L581.23 358.92 L587.60 355.09 L594.09 351.25 L600.72 347.41 L607.48 343.57 L614.35 339.73 L621.36 335.89 L628.48 332.05 L635.73 328.21 L643.09 324.37 L650.57 320.53 L658.17 316.69 L665.87 312.85 L673.70 309.02 L681.63 305.18 L689.67 301.34 L697.81 297.50 L706.06 293.66 L714.42 289.82 L722.87 285.98 L731.43 282.14 L740.09 278.30 L748.84 274.46 L757.69 270.62 L766.63 266.78 L775.66 262.94 L784.78 259.11 L793.99 255.27 L803.29 251.43 L812.67 247.59 L822.14 243.75 L831.69 239.91 L841.31 236.07 L851.02 232.23 L860.80 228.39 L870.66 224.55 L880.59 220.71 L890.60 216.87 L900.67 213.04 L910.81 209.20 L921.02 205.36 L931.30 201.52 L941.63 197.68 L952.03 193.84 L962.49 190.00" fill="none" stroke="#ff7f0e" stroke-width="2.083" stroke-linecap="square" stroke-linejoin="round"/>
<circle cx="192.50" cy="954.50" r="4.861" fill="#ff7f0e"/>
<circle cx="250.50" cy="780.50" r="4.861" fill="#ff7f0e"/>
<circle cx="344.50" cy="586.50" r="4.861" fill="#ff7f0e"/>
<circle cx="532.50" cy="392.50" r="4.861" fill="#ff7f0e"/>
<circle cx="973.50" cy="186.50" r="4.861" fill="#ff7f0e"/>
<path d="M150 954.00H1080" fill="none" stroke="#ff0000" stroke-width="2.083" stroke-dasharray="7.708 3.333"/>
<path d="M150 190.00H1080" fill="none" stroke="#ff0000" stroke-width="2.083" stroke-dasharray="7.708 3.333"/>
</g>
<rect x="150.5" y="144.5" width="930" height="924" fill="none" stroke="#000" stroke-width="1.111" stroke-linejoin="miter"/>
<rect x="830.5" y="975.5" width="238" height="81" rx="5.00" fill="#fff" fill-opacity="0.8" stroke="#cccccc" stroke-opacity="0.8" stroke-width="1.389"/>
<path d="M840 995h50" stroke="#1f77b4" stroke-width="2.083" stroke-linecap="square"/>
<path d="M840 1032h50" stroke="#ff7f0e" stroke-width="2.083" stroke-linecap="square"/>
<text font-size="24.400" x="212.37" y="1096.70" text-anchor="middle">250</text>
<text font-size="24.400" x="319.12" y="1096.70" text-anchor="middle">500</text>
<text font-size="25.137" x="425.87" y="1096.70" text-anchor="middle">750</text>
<text font-size="24.400" x="532.12" y="1096.70" text-anchor="middle">1000</text>
<text font-size="24.400" x="639.12" y="1096.70" text-anchor="middle">1250</text>
<text font-size="24.766" x="745.87" y="1096.70" text-anchor="middle">1500</text>
<text font-size="24.395" x="853.12" y="1096.70" text-anchor="middle">1750</text>
<text font-size="24.766" x="959.12" y="1096.70" text-anchor="middle">2000</text>
<text font-size="24.400" x="1066.12" y="1096.70" text-anchor="middle">2250</text>
<text font-size="24.766" x="140.60" y="993.70" text-anchor="end">30.0</text>
<text font-size="24.395" x="140.60" y="875.70" text-anchor="end">32.5</text>
<text font-size="24.395" x="140.35" y="757.70" text-anchor="end">35.0</text>
<text font-size="24.395" x="140.35" y="639.70" text-anchor="end">37.5</text>
<text font-size="24.400" x="139.35" y="522.70" text-anchor="end">40.0</text>
<text font-size="24.400" x="139.60" y="404.70" text-anchor="end">42.5</text>
<text font-size="24.400" x="139.35" y="286.70" text-anchor="end">45.0</text>
<text font-size="24.395" x="139.60" y="168.70" text-anchor="end">47.5</text>
<text font-size="38.889" x="614.50" y="104.50" text-anchor="middle">BDR-y psnr: 19.8 (91.0)</text>
<text font-size="38.889" x="615.25" y="1170.65" text-anchor="middle">Bitrate kbit/s</text>
<text font-size="38.889" transform="translate(36.50 606.50) rotate(-90)" text-anchor="middle">y psnr</text>
<text font-size="24.850" x="909.80" y="1003.70">S3-A08-265</text>
<text font-size="24.850" x="910.05" y="1039.70">S3-T08-ETM</text>
</svg></body></html>
